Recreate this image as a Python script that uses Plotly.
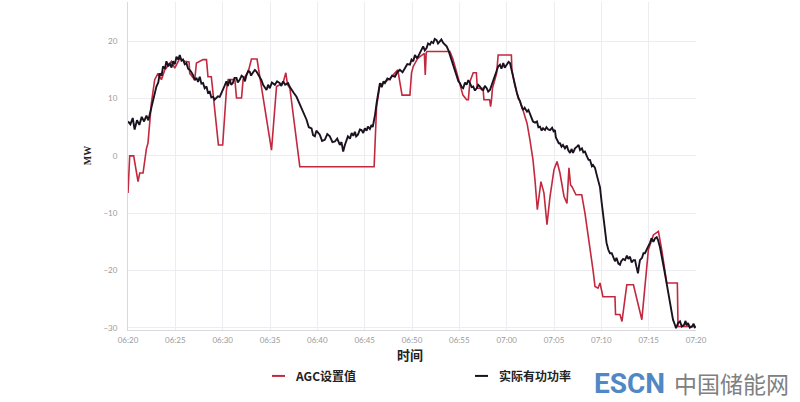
import datetime as dt
import plotly.graph_objects as go

# ---- data (minutes after 06:20, MW) ----
agc_t = [0.0, 0.18, 0.6, 1.06, 1.24, 1.59, 1.95, 2.11, 2.47, 2.82, 3.17, 3.53, 3.88, 4.59, 4.94, 5.47, 5.99,
         6.45, 6.52, 7.05, 7.23, 7.93, 8.29, 8.45, 8.8, 9.55, 10.0, 10.4, 10.58, 11.29, 11.46, 11.99, 12.16,
         12.7, 13.04, 13.63, 14.09, 15.16, 15.69, 16.38, 16.67, 16.85, 17.1, 18.15, 26.0, 26.26, 26.61, 27.1,
         27.66, 28.19, 28.5, 28.75, 28.95, 29.78, 29.95, 30.13, 30.6, 31.3, 31.4, 31.5, 31.57, 34.0, 34.3,
         34.7, 35.06, 35.38, 35.77, 35.95, 36.12, 36.47, 36.8, 36.9, 37.5, 37.6, 38.2, 38.3, 38.4, 38.5,
         38.94, 39.1, 40.5, 40.55, 40.85, 41.09, 41.72, 42.15, 42.46, 42.78, 42.99, 43.24, 43.62, 43.94,
         44.26, 44.58, 45.0, 45.32, 45.63, 46.06, 46.37, 46.58, 46.75, 46.9, 47.32, 47.93, 48.27, 48.8,
         49.12, 49.33, 49.65, 49.86, 50.17, 51.44, 51.5, 51.97, 52.18, 52.69, 53.39, 54.28, 54.8, 54.97,
         55.5, 56.03, 56.38, 56.91, 58.03, 58.1, 60.0]
agc_v = [-6.5, 0.0, 0.0, -4.5, -3.0, -3.0, 1.3, 2.2, 9.2, 13.3, 14.4, 13.3, 15.0, 16.5, 15.3, 17.0, 16.5,
         16.4, 14.4, 13.3, 16.2, 16.8, 16.8, 13.8, 13.8, 1.9, 1.9, 11.5, 13.3, 13.3, 10.1, 10.1, 13.3,
         14.7, 16.9, 16.9, 12.1, 1.0, 12.1, 12.7, 14.5, 12.4, 11.8, -1.9, -1.9, 8.6, 12.4, 12.8,
         13.5, 14.5, 15.0, 12.5, 10.6, 10.6, 14.5, 15.6, 17.0, 17.9, 14.1, 17.9, 18.2, 18.2, 17.0,
         14.7, 12.7, 10.6, 9.8, 9.8, 13.0, 14.5, 14.5, 11.8, 11.8, 9.8, 9.8, 8.6, 9.8, 11.8,
         14.4, 17.6, 17.6, 15.0, 12.4, 10.9, 8.0, 5.7, 2.8, -0.7, -4.2, -9.4, -4.5, -6.5,
         -12.0, -7.1, -2.4, -1.0, -3.0, -7.1, -8.3, -2.1, -5.1, -5.4, -6.8, -6.8, -10.0, -15.8,
         -19.9, -22.8, -23.1, -22.2, -24.6, -24.6, -27.7, -27.7, -28.9, -22.5, -22.5, -28.6, -18.7, -16.4,
         -13.8, -13.2, -16.4, -22.2, -22.2, -29.8, -29.8]

act_t = [0.0, 0.25, 0.5, 0.7, 0.95, 1.2, 1.45, 1.7, 1.95, 2.15, 2.35, 2.5, 2.7, 2.85, 3.0, 3.2, 3.35, 3.55,
         3.7, 3.9, 4.06, 4.25, 4.4, 4.6, 4.76, 4.95, 5.12, 5.3, 5.47, 5.65, 5.81, 6.0, 6.17, 6.35, 6.52,
         6.7, 6.87, 7.05, 7.23, 7.4, 7.58, 7.75, 7.93, 8.1, 8.29, 8.45, 8.64, 8.8, 8.99, 9.15, 9.34, 9.5,
         9.69, 9.85, 10.04, 10.2, 10.4, 10.55, 10.75, 10.9, 11.07, 11.25, 11.46, 11.6, 11.81, 12.0, 12.16,
         12.35, 12.52, 12.7, 12.86, 13.0, 13.18, 13.4, 13.57, 13.75, 13.92, 14.1, 14.27, 14.45, 14.63,
         14.8, 14.98, 15.2, 15.51, 15.75, 16.03, 16.2, 16.38, 16.6, 16.91, 17.1, 17.27, 17.5, 17.8, 18.05,
         18.33, 18.6, 18.86, 19.1, 19.39, 19.55, 19.74, 19.9, 20.08, 20.26, 20.5, 20.79, 21.05, 21.32,
         21.6, 21.85, 22.1, 22.38, 22.55, 22.73, 22.91, 23.05, 23.23, 23.45, 23.62, 23.8, 23.97, 24.1,
         24.29, 24.5, 24.67, 24.85, 25.02, 25.2, 25.34, 25.55, 25.73, 25.85, 25.98, 26.1, 26.26, 26.45,
         26.61, 26.8, 27.0, 27.14, 27.4, 27.66, 27.9, 28.19, 28.45, 28.72, 29.0, 29.25, 29.5, 29.78,
         29.95, 30.13, 30.31, 30.55, 30.84, 31.0, 31.18, 31.35, 31.54, 31.7, 31.89, 32.05, 32.24, 32.4,
         32.6, 32.75, 32.95, 33.1, 33.3, 33.5, 33.66, 33.85, 34.0, 34.2, 34.36, 34.55, 34.71, 34.9,
         35.06, 35.25, 35.41, 35.6, 35.77, 35.95, 36.12, 36.3, 36.47, 36.65, 36.83, 37.0, 37.18, 37.35,
         37.53, 37.7, 37.89, 38.05, 38.23, 38.4, 38.58, 38.75, 38.94, 39.1, 39.29, 39.45, 39.64, 39.8,
         40.0, 40.2, 40.35, 40.5, 40.67, 40.85, 41.09, 41.25, 41.4, 41.55, 41.72, 41.9, 42.15, 42.3,
         42.46, 42.6, 42.78, 43.0, 43.2, 43.35, 43.52, 43.7, 43.84, 44.05, 44.2, 44.4, 44.58, 44.8,
         44.95, 45.1, 45.2, 45.32, 45.5, 45.63, 45.8, 45.95, 46.16, 46.35, 46.5, 46.69, 46.85, 47.01,
         47.22, 47.43, 47.6, 47.75, 47.95, 48.1, 48.27, 48.48, 48.65, 48.8, 49.0, 49.12, 49.33, 49.54,
         49.7, 49.86, 50.04, 50.2, 50.39, 50.55, 50.74, 50.91, 51.1, 51.25, 51.44, 51.6, 51.8, 51.97,
         52.1, 52.3, 52.5, 52.7, 52.85, 53.03, 53.2, 53.4, 53.56, 53.7, 53.87, 54.0, 54.08, 54.3, 54.45,
         54.61, 54.8, 54.95, 55.14, 55.3, 55.5, 55.67, 55.85, 55.99, 56.2, 56.41, 56.6, 56.83, 57.05,
         57.26, 57.4, 57.57, 57.75, 57.89, 58.1, 58.31, 58.5, 58.74, 58.9, 59.0, 59.16, 59.35, 59.58,
         59.75, 59.9]
act_v = [6.0, 5.5, 6.6, 4.6, 6.2, 5.4, 6.8, 6.0, 7.0, 6.2, 7.6, 8.6, 10.0, 10.6, 12.1, 12.8, 14.4, 14.0,
         15.6, 15.2, 16.5, 15.6, 16.2, 15.4, 16.5, 16.0, 17.3, 16.8, 17.6, 16.6, 16.8, 16.0, 16.2, 15.2, 15.0,
         14.6, 14.1, 13.2, 13.6, 12.9, 13.8, 12.6, 12.7, 11.8, 12.1, 11.0, 11.2, 10.2, 10.3, 9.8, 10.1, 10.4,
         10.3, 11.0, 11.8, 12.2, 13.0, 12.2, 13.3, 12.4, 12.7, 13.6, 13.6, 12.8, 13.3, 14.0, 13.8,
         13.0, 14.1, 14.8, 14.7, 14.0, 14.5, 15.0, 14.7, 14.2, 13.8, 13.2, 12.4, 12.0, 11.5,
         12.4, 11.8, 12.8, 12.4, 13.0, 12.7, 12.2, 13.0, 12.4, 12.7, 12.0, 11.5, 11.0, 10.3, 9.3,
         8.3, 7.4, 6.3, 5.0, 4.8, 3.6, 3.4, 4.4, 4.0, 3.7, 2.6, 2.8, 3.8, 3.4,
         2.4, 2.5, 3.0, 1.9, 2.4, 0.75, 1.9, 2.6, 3.4, 3.0, 4.0, 3.5, 4.2, 3.4,
         3.7, 4.6, 4.5, 4.0, 4.8, 4.4, 5.1, 4.7, 5.4, 5.0, 6.0, 7.2, 9.2, 11.0,
         12.7, 12.0, 13.0, 12.7, 13.5, 13.3, 14.0, 13.8, 14.6, 15.0, 14.6, 15.3, 16.0, 15.9,
         16.8, 16.5, 17.6, 17.0, 17.9, 18.6, 19.1, 18.4, 18.8, 19.6, 19.4, 19.9, 19.7, 20.4,
         20.2, 19.6, 19.9, 20.3, 19.7, 19.4, 19.1, 18.4, 17.6, 16.6, 15.6, 14.6, 13.8, 13.0,
         12.7, 12.0, 11.8, 12.8, 12.4, 13.2, 12.7, 12.0, 12.1, 11.4, 11.8, 12.4, 12.1, 11.6,
         11.5, 12.2, 11.8, 11.2, 11.5, 12.3, 13.3, 14.2, 15.0, 15.6, 15.9, 15.2, 16.2, 15.4,
         15.9, 16.4, 16.2, 15.0, 13.8, 12.4, 10.9, 10.0, 9.6, 8.8, 8.0, 8.4, 7.7, 8.0,
         7.3, 6.6, 6.0, 5.8, 6.0, 5.0, 5.1, 4.4, 4.8, 4.5, 5.0, 4.6, 4.5, 4.9,
         4.3, 4.5, 3.2, 2.8, 2.2, 2.2, 1.6, 1.9, 1.3, 1.8, 1.0, 0.5, 1.2, 0.5,
         1.3, 1.6, 1.9, 1.0, 1.3, 0.6, 0.75, -0.1, -0.7, -0.7, -1.8, -1.6, -2.1, -3.5,
         -4.4, -5.5, -8.2, -10.8, -13.5, -15.2, -16.4, -17.0, -17.0, -17.6, -18.4, -17.8, -18.8, -19.0,
         -18.4, -18.0, -18.2, -17.4, -18.0, -17.6, -18.6, -18.2, -18.2, -19.3, -20.5, -19.0, -18.2, -17.8, -17.0,
         -17.0, -16.2, -15.8, -15.2, -14.4, -15.0, -14.4, -14.2, -14.7, -16.0, -17.6, -19.5, -21.6, -23.6,
         -25.7, -27.0, -28.6, -29.4, -30.1, -29.2, -28.9, -29.8, -29.5, -28.8, -29.6, -29.2, -30.0, -29.8,
         -29.3, -30.1]

x_ticks = ["06:20", "06:25", "06:30", "06:35", "06:40", "06:45", "06:50",
           "06:55", "07:00", "07:05", "07:10", "07:15", "07:20"]
y_ticks = [-30, -20, -10, 0, 10, 20]

series_names = ["AGC设置值", "实际有功功率"]
series_colors = ["#c2283e", "#1b1220"]

base = dt.datetime(2020, 1, 1, 6, 20)


def to_time(mins):
    return [base + dt.timedelta(minutes=m) for m in mins]


tick_vals = [dt.datetime.strptime("2020-01-01 " + s, "%Y-%m-%d %H:%M") for s in x_ticks]

fig = go.Figure()
fig.add_trace(go.Scatter(x=to_time(agc_t), y=agc_v, mode="lines", name=series_names[0],
                         line=dict(color=series_colors[0], width=1.6)))
fig.add_trace(go.Scatter(x=to_time(act_t), y=act_v, mode="lines", name=series_names[1],
                         line=dict(color=series_colors[1], width=1.9)))

grid = "#ececf1"
fig.update_layout(
    width=800, height=402,
    margin=dict(l=128, r=104, t=2, b=72),
    paper_bgcolor="white", plot_bgcolor="white",
    showlegend=False,
    font=dict(family="Lato, Noto Sans CJK SC", size=8, color="#8f8f8f"),
    xaxis=dict(type="date", range=[tick_vals[0], tick_vals[-1]], tickvals=tick_vals, ticktext=x_ticks,
               showgrid=True, gridcolor=grid, gridwidth=1, showline=True, linecolor="#d8d8de",
               linewidth=1, ticks="", zeroline=False, ticklabelstandoff=2,
               tickfont=dict(size=8, color="#9a9a9a")),
    yaxis=dict(range=[-30.4, 26.85], tickvals=y_ticks, showgrid=True, gridcolor=grid, gridwidth=1,
               showline=True, linecolor="#d8d8de", linewidth=1, ticks="", zeroline=False,
               ticklabelstandoff=8, tickfont=dict(size=8, color="#9a9a9a")),
)

# axis titles
fig.add_annotation(text="<b>MW</b>", xref="paper", yref="paper", x=-0.072, y=0.53,
                   xanchor="center", yanchor="middle", textangle=-90, showarrow=False,
                   font=dict(family="Liberation Serif", size=10, color="#222"))
fig.add_annotation(text="<b>时间</b>", xref="paper", yref="paper", x=0.4965, y=-0.076,
                   xanchor="center", yanchor="middle", showarrow=False, borderpad=0,
                   font=dict(family="Noto Sans CJK SC", size=13, color="#222"))

# legend (drawn manually to match reference layout)
leg_y = -0.140
leg_items = [(0.2535, 0.2764, 0.2905), (0.6109, 0.6338, 0.6496)]
for (x0, x1, xt), name, col in zip(leg_items, series_names, series_colors):
    fig.add_shape(type="line", xref="paper", yref="paper", x0=x0, x1=x1, y0=leg_y, y1=leg_y,
                  line=dict(color=col, width=2))
    fig.add_annotation(text="<b>" + name + "</b>", xref="paper", yref="paper", x=xt, y=leg_y,
                       xanchor="left", yanchor="middle", showarrow=False,
                       font=dict(family="Noto Sans CJK SC", size=12, color="#222"))

# watermark
wm_y = (330 - 383) / 328
fig.add_annotation(text="<b>ESCN</b>", xref="paper", yref="paper", x=(592 - 128) / 568,
                   y=wm_y, xanchor="left", yanchor="middle", showarrow=False,
                   font=dict(family="Roboto", size=28, color="#4f88c4"))
fig.add_annotation(text="中国储能网", xref="paper", yref="paper", x=(672 - 128) / 568,
                   y=wm_y, xanchor="left", yanchor="middle", showarrow=False,
                   font=dict(family="Noto Sans CJK SC", size=23, color="#808080"))

fig.write_html("out.html", config={"displayModeBar": False},
               post_script="document.body.style.margin='0px';")
